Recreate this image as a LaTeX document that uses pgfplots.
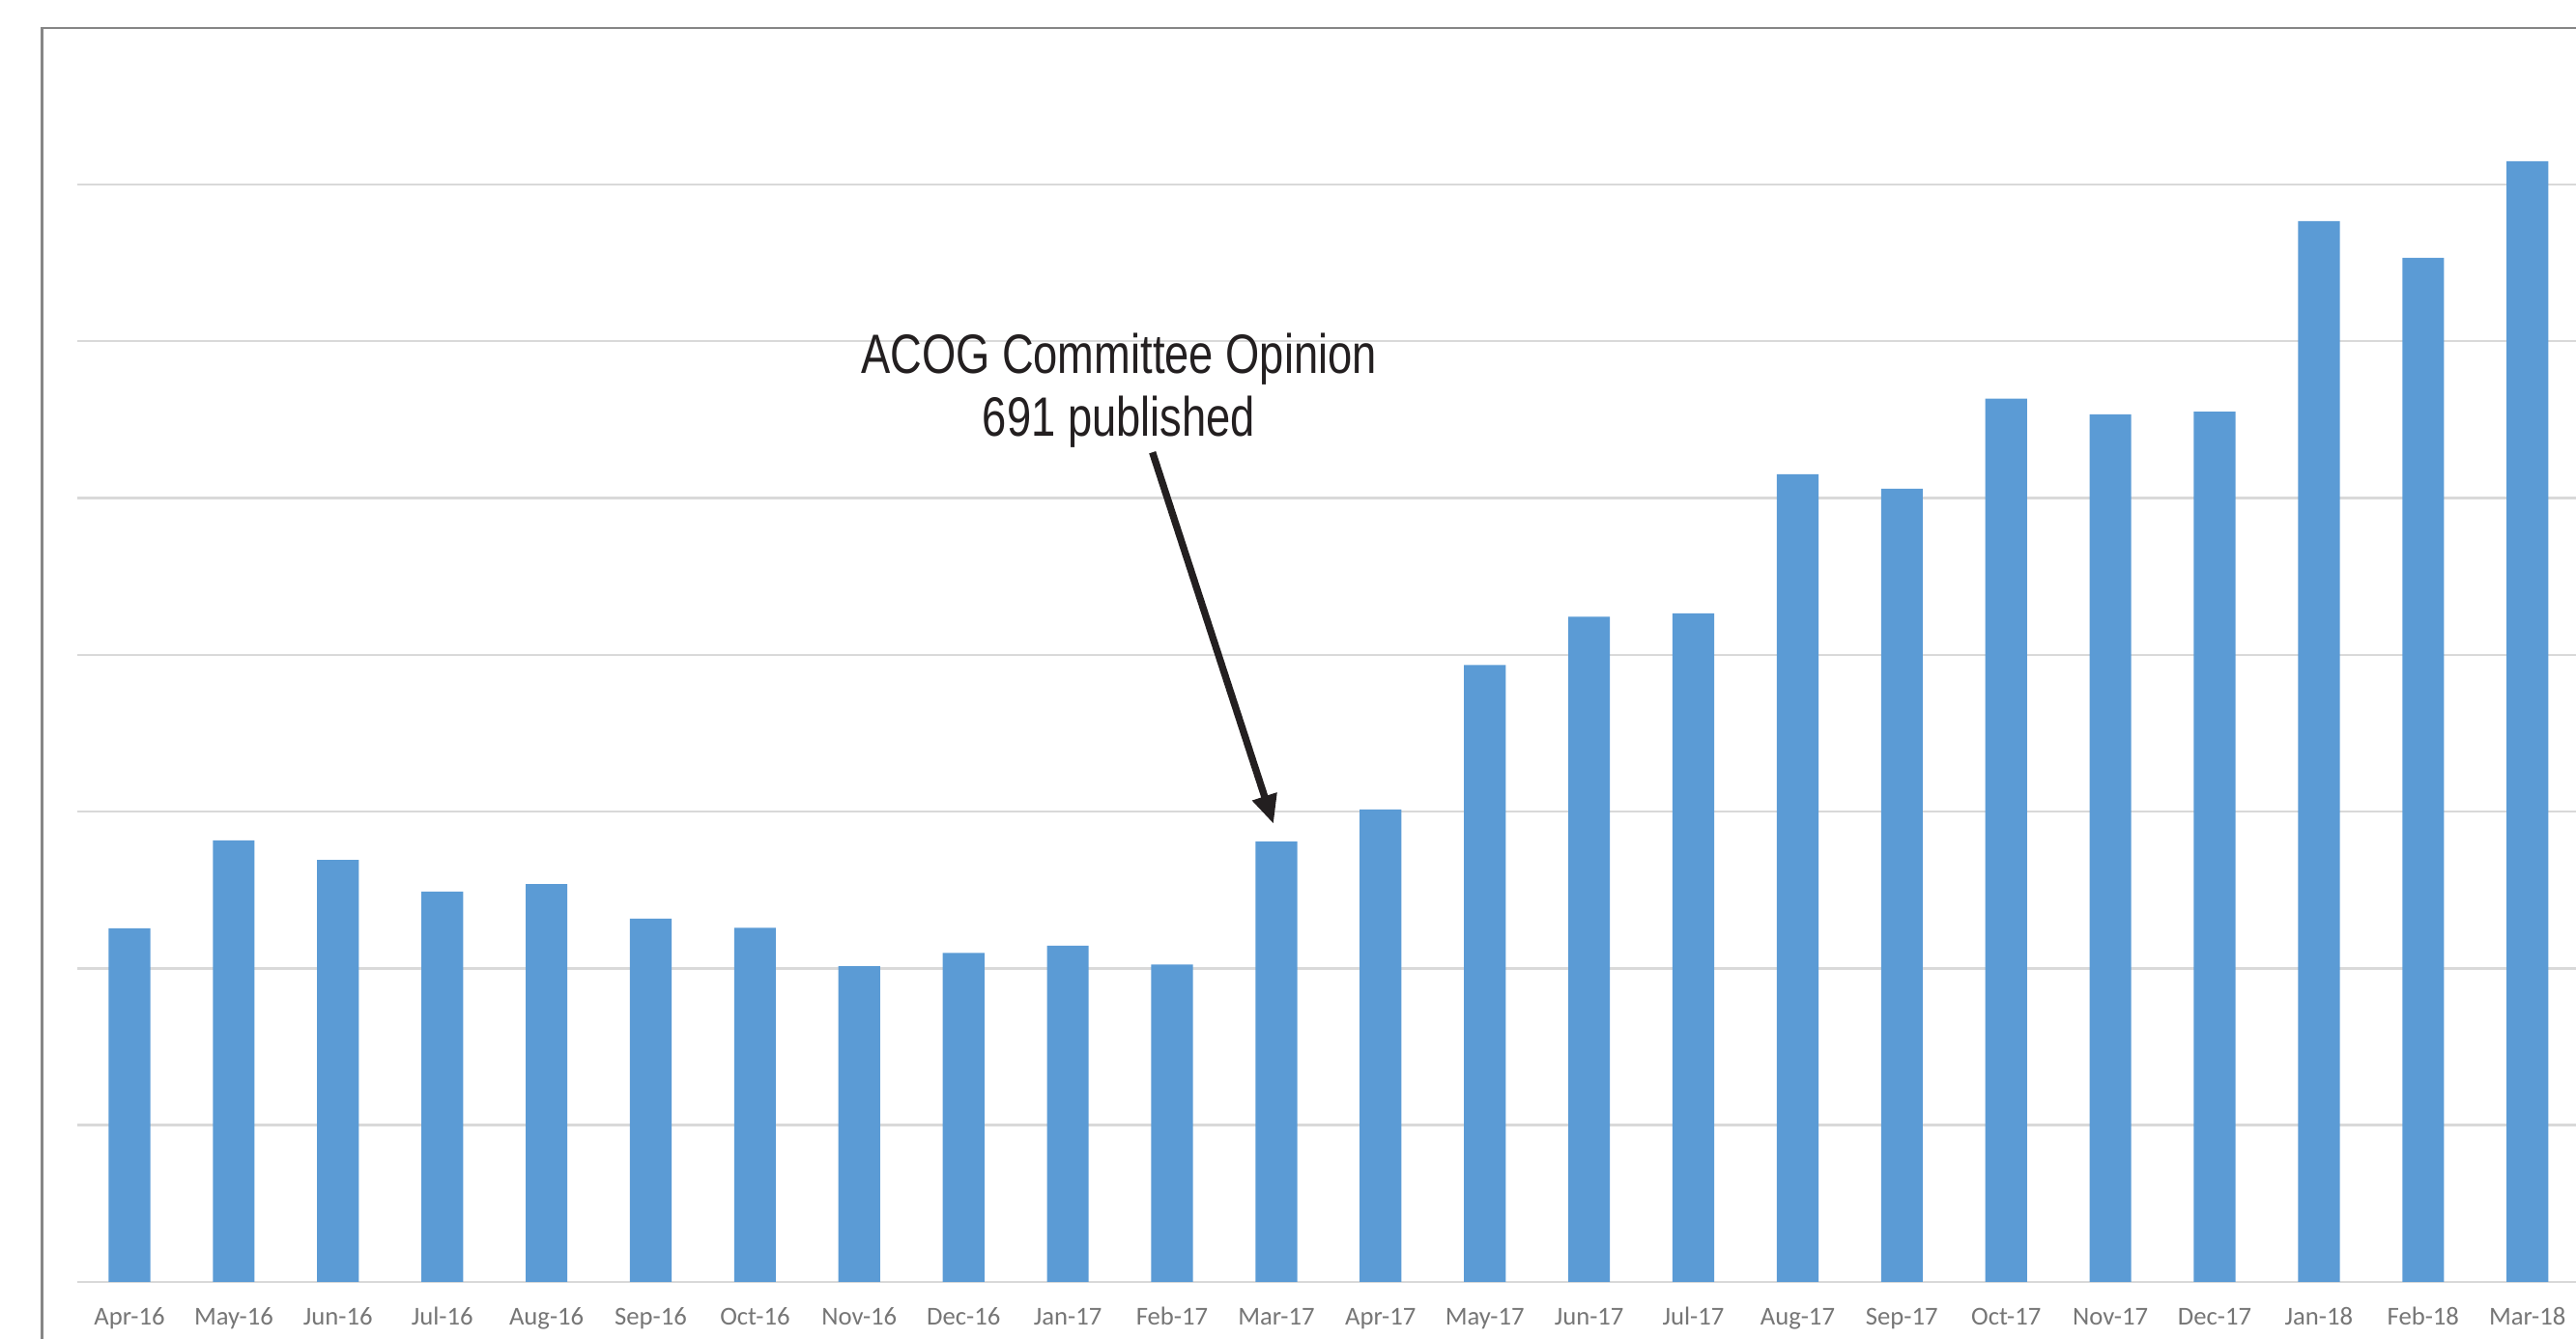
\documentclass[border=0pt]{standalone}
\usepackage{pgfplots}
\pgfplotsset{compat=1.18}
\usepackage{fontspec}
\setmainfont{Carlito}
\newfontfamily\narrowfont[FakeStretch=0.79]{Liberation Sans}
\usetikzlibrary{arrows.meta}
\definecolor{barblue}{HTML}{5B9BD5}
\definecolor{gridgray}{HTML}{D9D9D9}
\definecolor{tickgray}{HTML}{767676}
\definecolor{framegray}{HTML}{868686}
\definecolor{annot}{HTML}{231F20}
\pgfplotstableread{
x y
0 2.255
1 2.816
2 2.691
3 2.489
4 2.537
5 2.317
6 2.259
7 2.013
8 2.099
9 2.144
10 2.025
11 2.808
12 3.013
13 3.935
14 4.243
15 4.264
16 5.151
17 5.059
18 5.634
19 5.533
20 5.551
21 6.765
22 6.531
23 7.147
}\datatable
\begin{document}
\begin{tikzpicture}
\begin{axis}[
  x=32.37pt, y=48.69pt,
  xmin=-0.5, xmax=23.5, ymin=0, ymax=7.4,
  clip=false,
  axis line style={draw=none},
  major tick length=0pt,
  ytick={0,1,...,7}, yticklabels={},
  ymajorgrids,
  grid style={color=gridgray, line width=0.7pt},
  xtick={0,1,...,23},
  xticklabels={Apr-16,May-16,Jun-16,Jul-16,Aug-16,Sep-16,Oct-16,Nov-16,Dec-16,Jan-17,Feb-17,Mar-17,Apr-17,May-17,Jun-17,Jul-17,Aug-17,Sep-17,Oct-17,Nov-17,Dec-17,Jan-18,Feb-18,Mar-18},
  xticklabel style={font=\fontsize{8}{9.6}\selectfont, text=tickgray, anchor=base, yshift=-13.4pt, inner sep=0pt},
]
\addplot[ybar, bar width=0.4, fill=barblue, draw=none] table[x=x,y=y]{\datatable};
\coordinate (bbSW) at (axis cs:-1.2419,-0.3635);
\coordinate (bbNE) at (axis cs:23.466,8.176);
\draw[framegray, line width=0.8pt] (axis cs:-0.8387,-1) -- (axis cs:-0.8387,7.997) -- (axis cs:24.5,7.997);
\node[anchor=base, text=annot, inner sep=0pt, font=\narrowfont\fontsize{17.2}{20}\selectfont] at (axis cs:9.49,5.792) {ACOG Committee Opinion};
\node[anchor=base, text=annot, inner sep=0pt, font=\narrowfont\fontsize{17.2}{20}\selectfont] at (axis cs:9.49,5.397) {691 published};
\draw[annot, line width=2.2pt, -{Triangle[width=7.5pt,length=9pt]}] (axis cs:9.812,5.291) -- (axis cs:10.973,2.921);
\end{axis}
\pgfresetboundingbox
\useasboundingbox (bbSW) rectangle (bbNE);
\end{tikzpicture}
\end{document}
